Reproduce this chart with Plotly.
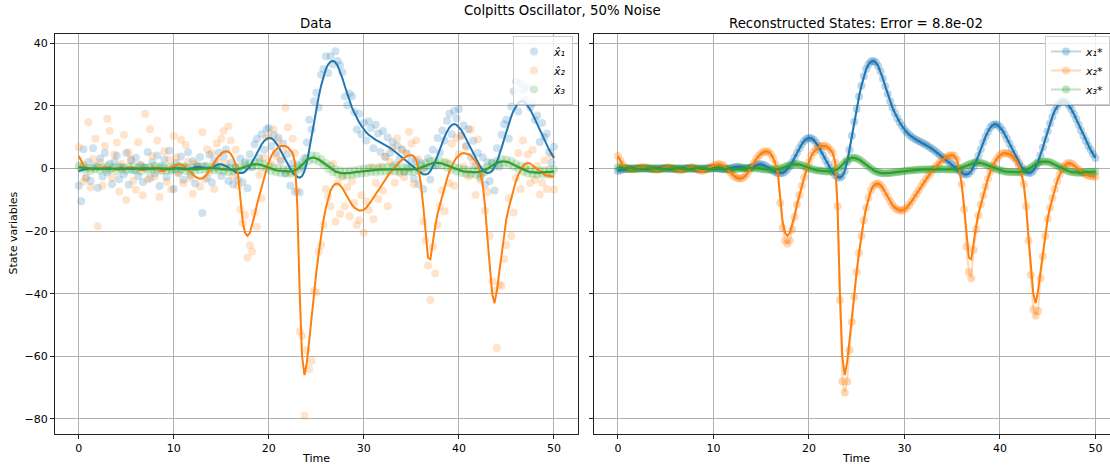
import numpy as np
import plotly.graph_objects as go

time = np.linspace(0, 50, 201)

# reconstructed states (sampled every 0.25 time units)
x1 = [
    -0.8, -0.5, -0.3, -0.2,  -0.1, 0.0, 0.0, 0.1,  0.1, 0.1, 0.0, 0.0,  0.0, -0.1, -0.1, 0.0,
    0.0, 0.1, 0.1, 0.1,  0.0, 0.0, -0.1, -0.1,  -0.1, 0.0, 0.0, 0.1,  0.1, 0.1, 0.0, 0.0,
    -0.1, -0.2, -0.2, -0.1,  0.0, 0.1, 0.2, 0.2,  0.2, 0.1, 0.0, -0.1,  -0.2, -0.2, -0.1, 0.1,
    0.3, 0.5, 0.6, 0.5,  0.3, 0.1, 0.0, 0.1,  0.4, 0.8, 1.2, 1.4,  1.4, 1.2, 0.8, 0.3,
    -0.2, -0.7, -1.1, -1.4,  -1.5, -1.4, -1.0, -0.3,  0.7, 2.0, 3.5, 5.0,  6.5, 7.8, 8.8, 9.5,
    9.8, 9.7, 9.2, 8.3,  7.1, 5.7, 4.2, 2.7,  1.3, 0.0, -1.2, -2.1,  -2.7, -2.9, -2.4, -0.8,
    2.0, 6.0, 10.5, 15.0,  19.0, 23.0, 26.5, 29.5,  31.8, 33.3, 34.2, 34.4,  34.0, 32.8, 31.0, 28.8,
    26.3, 23.8, 21.5, 19.5,  17.8, 16.2, 14.8, 13.6,  12.5, 11.6, 10.8, 10.2,  9.6, 9.2, 8.8, 8.4,
    8.0, 7.6, 7.1, 6.6,  6.1, 5.5, 4.9, 4.3,  3.7, 3.1, 2.5, 1.9,  1.3, 0.6, -0.1, -0.8,
    -1.4, -1.8, -1.9, -1.6,  -0.8, 0.5, 2.2, 4.1,  6.2, 8.3, 10.2, 11.8,  13.1, 13.9, 14.2, 14.0,
    13.3, 12.3, 11.0, 9.5,  7.9, 6.3, 4.7, 3.2,  1.8, 0.6, -0.4, -1.1,  -1.4, -1.3, -0.7, 0.5,
    2.2, 4.3, 6.7, 9.3,  11.9, 14.4, 16.6, 18.5,  20.0, 21.0, 21.5, 21.5,  21.0, 20.1, 18.9, 17.4,
    15.8, 14.0, 12.2, 10.5,  8.9, 7.4, 6.0, 4.7,  3.4,
]
x2 = [
    4.0, 2.5, 1.2, 0.4,  0.0, -0.2, -0.2, -0.1,  0.1, 0.3, 0.4, 0.4,  0.3, 0.1, -0.1, -0.3,
    -0.4, -0.3, -0.1, 0.1,  0.3, 0.4, 0.3, 0.1,  -0.2, -0.4, -0.5, -0.4,  -0.2, 0.1, 0.3, 0.4,
    0.2, -0.1, -0.5, -0.8,  -0.6, -0.3, 0.1, 0.5,  0.9, 1.2, 1.4, 1.3,  1.0, 0.4, -0.4, -1.2,
    -2.0, -2.6, -3.0, -3.2,  -3.1, -2.6, -1.8, -0.7,  0.6, 1.9, 3.1, 4.1,  4.8, 5.3, 5.5, 5.4,
    4.7, 3.4, 1.5, -1.5,  -9.0, -17.0, -20.5, -21.5,  -20.5, -18.0, -15.0, -11.5,  -8.5, -5.5, -2.8, -0.3,
    2.0, 4.0, 5.3, 6.2,  6.8, 7.2, 7.3, 7.2,  6.8, 6.0, 5.0, 2.0,  -12.0, -40.0, -60.0, -66.0,
    -62.0, -55.0, -47.0, -40.0,  -33.0, -27.0, -21.5, -16.5,  -12.5, -9.3, -7.0, -5.6,  -4.9, -4.8, -5.3, -6.3,
    -7.6, -9.0, -10.4, -11.6,  -12.5, -13.1, -13.4, -13.4,  -13.1, -12.5, -11.6, -10.5,  -9.3, -8.1, -6.9, -5.7,
    -4.5, -3.4, -2.3, -1.3,  -0.4, 0.5, 1.3, 2.1,  2.8, 3.4, 3.9, 4.2,  4.3, 4.0, 2.8, -0.2,
    -5.0, -12.0, -21.0, -28.5,  -29.0, -23.5, -18.5, -14.5,  -11.5, -8.5, -5.8, -3.2,  -1.0, 0.8, 2.3, 3.5,
    4.3, 4.8, 5.0, 4.9,  4.6, 4.1, 3.4, 2.4,  1.0, -1.5, -5.0, -12.0,  -22.0, -32.0, -40.0, -43.0,
    -39.0, -33.0, -27.0, -21.0,  -16.0, -12.5, -9.5, -6.5,  -4.0, -2.0, -0.3, 0.9,  1.6, 1.8, 1.6, 1.0,
    0.3, -0.4, -1.0, -1.5,  -1.9, -2.2, -2.4, -2.5,  -2.6,
]
x3 = [
    0.4, 0.3, 0.2, 0.1,  0.0, 0.0, -0.1, -0.1,  -0.1, 0.0, 0.0, 0.1,  0.1, 0.1, 0.0, 0.0,
    -0.1, -0.1, -0.1, 0.0,  0.0, 0.1, 0.1, 0.1,  0.0, 0.0, -0.1, -0.1,  -0.1, 0.0, 0.0, 0.1,
    0.1, 0.1, 0.0, 0.0,  -0.1, -0.1, -0.1, 0.0,  0.0, 0.1, 0.1, 0.1,  0.0, -0.1, -0.1, -0.2,
    -0.2, -0.2, -0.1, 0.0,  0.0, 0.1, 0.2, 0.2,  0.2, 0.2, 0.1, 0.0,  -0.1, -0.2, -0.3, -0.4,
    -0.4, -0.4, -0.3, -0.2,  0.0, 0.3, 0.6, 0.9,  1.1, 1.3, 1.4, 1.4,  1.3, 1.1, 0.8, 0.5,
    0.2, -0.1, -0.3, -0.5,  -0.6, -0.7, -0.8, -0.9,  -0.9, -0.9, -0.8, -0.6,  -0.2, 0.4, 1.2, 2.0,
    2.7, 3.2, 3.5, 3.5,  3.3, 2.9, 2.4, 1.8,  1.2, 0.6, 0.0, -0.5,  -0.9, -1.2, -1.4, -1.5,
    -1.5, -1.5, -1.4, -1.3,  -1.2, -1.1, -1.0, -0.9,  -0.8, -0.7, -0.6, -0.5,  -0.5, -0.4, -0.4, -0.3,
    -0.3, -0.3, -0.2, -0.2,  -0.2, -0.2, -0.2, -0.2,  -0.2, -0.2, -0.3, -0.3,  -0.3, -0.3, -0.2, 0.0,
    0.3, 0.6, 1.0, 1.3,  1.6, 1.8, 1.9, 1.9,  1.8, 1.6, 1.3, 1.0,  0.7, 0.3, 0.0, -0.3,
    -0.5, -0.7, -0.9, -1.0,  -1.1, -1.2, -1.2, -1.2,  -1.1, -1.0, -0.8, -0.5,  -0.1, 0.4, 0.9, 1.4,
    1.8, 2.1, 2.3, 2.3,  2.2, 2.0, 1.7, 1.3,  0.9, 0.5, 0.1, -0.3,  -0.6, -0.9, -1.1, -1.2,
    -1.3, -1.3, -1.3, -1.2,  -1.2, -1.1, -1.0, -1.0,  -0.9,
]

# true x2 state (faint markers on the right; deeper at the dips than the reconstruction)
x2_true = [
    4.0, 2.5, 1.2, 0.4,  0.0, -0.2, -0.2, -0.1,  0.1, 0.3, 0.4, 0.4,  0.3, 0.1, -0.1, -0.3,
    -0.4, -0.3, -0.1, 0.1,  0.3, 0.4, 0.3, 0.1,  -0.2, -0.4, -0.5, -0.4,  -0.2, 0.1, 0.3, 0.4,
    0.2, -0.1, -0.5, -0.8,  -0.6, -0.3, 0.1, 0.5,  0.9, 1.2, 1.4, 1.3,  1.0, 0.4, -0.4, -1.2,
    -2.0, -2.6, -3.0, -3.2,  -3.1, -2.6, -1.8, -0.7,  0.6, 1.9, 3.1, 4.1,  4.8, 5.3, 5.5, 5.4,
    4.7, 3.4, 1.5, -1.5,  -11.0, -19.0, -23.0, -24.0,  -23.0, -19.5, -15.5, -11.5,  -8.5, -5.5, -2.8, -0.3,
    2.0, 4.0, 5.3, 6.2,  6.8, 7.2, 7.3, 7.2,  6.8, 6.0, 5.0, 2.0,  -12.0, -42.0, -68.0, -71.5,
    -68.0, -58.0, -49.0, -41.0,  -33.0, -27.0, -21.5, -16.5,  -12.5, -9.3, -7.0, -5.6,  -4.9, -4.8, -5.3, -6.3,
    -7.6, -9.0, -10.4, -11.6,  -12.5, -13.1, -13.4, -13.4,  -13.1, -12.5, -11.6, -10.5,  -9.3, -8.1, -6.9, -5.7,
    -4.5, -3.4, -2.3, -1.3,  -0.4, 0.5, 1.3, 2.1,  2.8, 3.4, 3.9, 4.2,  4.3, 4.0, 2.8, -0.2,
    -5.0, -13.0, -25.0, -33.0,  -35.0, -26.0, -19.5, -15.0,  -11.5, -8.5, -5.8, -3.2,  -1.0, 0.8, 2.3, 3.5,
    4.3, 4.8, 5.0, 4.9,  4.6, 4.1, 3.4, 2.4,  1.0, -1.5, -5.0, -12.0,  -23.0, -34.0, -45.0, -47.0,
    -45.5, -35.0, -28.0, -21.5,  -16.0, -12.5, -9.5, -6.5,  -4.0, -2.0, -0.3, 0.9,  1.6, 1.8, 1.6, 1.0,
    0.3, -0.4, -1.0, -1.5,  -1.9, -2.2, -2.4, -2.5,  -2.6,
]

# noisy measurements (50% noise)
nx1 = [
    -5.5, -10.4, 6.2, -3.0,  2.1, -4.0, 6.5, 0.8,  -6.1, 3.2, -2.5, 5.0,  -1.2, 1.5, -5.0, 2.2,
    4.1, -3.4, 0.5, -1.8,  5.0, -5.2, 2.7, -0.6,  3.5, -2.4, 1.2, -4.3,  0.3, 5.3, -3.1, 2.0,
    -1.5, 4.2, -5.6, 0.9,  3.0, -2.7, 5.7, -0.4,  -6.5, 1.8, -1.3, 3.9,  -3.6, 0.6, 5.2, -2.1,
    2.4, -4.8, 1.0, 3.7,  -14.2, 0.7, -2.9, 4.4,  -4.4, 2.6, 0.3, 5.1,  -2.4, 3.8, 6.1, -4.0,
    1.8, -5.1, 0.5, -3.6,  3.2, -4.4, 2.1, -6.3,  4.6, 0.5, 7.8, 9.5,  3.4, 11.0, 6.0, 12.6,
    13.0, 7.2, 10.8, 5.0,  9.9, 2.4, 8.0, -1.5,  4.7, -5.5, 1.6, -7.5,  1.2, -7.6, 0.4, 3.3,
    8.3, 15.6, 12.5, 21.5,  24.2, 19.5, 30.0, 31.8,  35.9, 30.5, 35.9, 33.3,  37.5, 34.4, 33.0, 30.8,
    23.0, 20.2, 24.0, 23.0,  18.1, 12.5, 17.5, 11.0,  14.6, 9.0, 15.1, 13.0,  6.5, 14.0, 11.2, 5.3,
    12.0, 3.8, 9.9, 5.0,  8.4, 1.2, 7.3, 3.0,  6.2, -1.0, 4.8, 0.2,  3.0, -3.2, 2.5, -5.0,
    1.7, -6.5, 0.4, 3.3,  -3.5, 6.0, 0.9, 9.8,  5.1, 12.2, 9.0, 15.3,  17.5, 11.0, 18.5, 16.0,
    19.0, 10.5, 13.8, 7.2,  12.6, 3.8, 8.9, 1.0,  5.0, -2.8, 3.6, -5.2,  2.1, -4.0, 1.9, -7.0,
    6.5, 0.6, 10.8, 14.2,  15.6, 9.5, 19.8, 24.7,  27.9, 18.2, 27.0, 25.0,  22.0, 26.0, 19.5, 20.8,
    15.5, 17.0, 8.5, 14.6,  10.0, 11.2, 5.2, 1.8,  7.0,
]
nx2 = [
    6.8, 0.5, -4.2, -2.6,  14.8, -6.0, 3.1, 9.5,  -18.4, 2.0, -5.5, 7.2,  15.9, 12.0, -3.0, 4.5,
    8.3, -7.3, 1.5, 10.8,  -10.0, 5.2, 3.0, -4.0,  -6.8, 8.4, 1.0, -8.5,  17.5, -3.5, 12.6, 4.0,
    -2.6, 9.0, -9.1, -0.5,  5.5, -4.2, 2.8, -6.7,  10.4, 3.6, -1.5, 9.2,  -4.7, 7.5, 2.2, -3.1,
    -8.0, 1.6, 0.5, -5.8,  11.6, -3.4, 6.2, -1.0,  4.9, -6.5, 8.0, 2.0,  9.5, 12.0, 1.5, 13.5,
    9.0, -2.5, 6.0, -5.5,  -13.0, -17.5, -14.8, -28.5,  -24.5, -26.5, -14.0, -18.6,  -2.0, -9.5, 3.5, 9.8,
    10.2, 1.5, 12.5, 4.0,  9.0, 3.0, 6.0, 19.4,  13.2, -1.0, 9.5, 5.0,  -7.0, -52.0, -53.5, -79.0,
    -58.0, -64.0, -61.5, -39.0,  -39.6, -26.6, -24.5, -18.0,  -6.5, -9.0, -12.0, 1.5,  -17.0, -4.5, -14.5, -2.6,
    -12.0, -6.0, -15.2, -4.0,  -11.0, -18.0, -16.5, -8.5,  -20.5, -10.5, -13.2, 0.5,  -16.2, -4.5, -9.7, 0.7,
    -7.0, 3.8, -12.0, 2.2,  6.5, -4.5, 9.6, -1.5,  6.0, -2.8, 4.9, 11.8,  8.0, -5.0, 9.0, 3.0,
    -1.0, -17.0, -23.0, -31.0,  -42.0, -25.0, -33.5, -18.0,  -12.0, -7.0, -13.6, 2.0,  -4.6, 8.0, -5.5, 9.8,
    4.6, 10.6, 0.7, 7.0,  -2.5, 12.5, 2.2, -8.4,  9.3, -3.6, -1.5, -13.5,  -7.5, -21.5, -36.0, -39.0,
    -57.3, -37.0, -37.5, -29.0,  -24.5, -9.5, -21.5, -14.0,  -3.0, 5.0, -6.5, 9.0,  0.5, 4.5, -4.6, 6.0,
    -3.6, 0.8, -8.3, -4.5,  2.7, -6.5, -2.0, 4.0,  -6.7,
]
nx3 = [
    1.0, -0.2, 1.1, -0.2,  0.2, -0.8, 0.3, -0.2,  0.6, -0.6, 0.4, -0.2,  0.8, -0.5, 0.1, 0.5,
    -0.9, 0.6, -0.4, 0.3,  -0.6, 0.7, -0.3, 0.9,  -0.5, 0.4, -0.9, 0.5,  0.3, -0.7, 0.6, -0.4,
    0.9, -0.3, 0.5, -0.8,  0.4, -0.6, 0.5, -0.7,  0.6, -0.4, 0.9, -0.3,  0.7, -0.8, 0.2, -0.9,
    0.3, -0.7, 0.5, -0.5,  0.8, -0.4, 0.9, -0.3,  0.6, -0.5, 0.7, -0.6,  0.4, -0.9, 0.2, -1.1,
    0.3, -0.9, 0.2, -0.8,  0.7, -0.3, 1.3, 0.4,  1.9, 0.6, 2.1, 0.8,  2.0, 0.5, 1.5, -0.2,
    0.9, -0.8, 0.4, -1.2,  0.1, -1.5, -0.2, -1.6,  -0.2, -1.7, -0.1, -1.3,  0.5, -0.3, 2.0, 1.3,
    3.5, 2.4, 4.3, 2.8,  4.1, 2.2, 3.1, 1.1,  1.9, -0.1, 0.8, -1.2,  -0.2, -1.9, -0.6, -2.3,
    -0.8, -2.2, -0.7, -2.0,  -0.5, -1.8, -0.3, -1.6,  0.0, -1.4, 0.1, -1.1,  0.2, -1.2, 0.3, -1.0,
    0.4, -1.0, 0.5, -0.9,  0.5, -0.9, 0.4, -1.0,  0.5, -0.9, 0.4, -1.0,  0.4, -1.0, 0.5, -0.7,
    1.0, -0.1, 1.8, 0.6,  2.4, 1.1, 2.7, 1.2,  2.5, 0.9, 2.0, 0.3,  1.5, -0.4, 0.7, -1.0,
    0.2, -1.4, -0.2, -1.7,  -0.4, -1.9, -0.5, -2.0,  -0.4, -1.7, -0.1, -1.2,  0.6, -0.3, 1.7, 0.7,
    2.5, 1.4, 3.1, 1.6,  2.9, 1.3, 2.5, 0.6,  1.6, -0.2, 0.9, -1.0,  0.1, -1.6, -0.4, -1.9,
    -0.6, -2.0, -0.6, -1.9,  -0.5, -1.8, -0.3, -1.7,  -0.2,
]

noisy_names = ["x̂₁", "x̂₂", "x̂₃"]
true_names = ["x₁*", "x₂*", "x₃*"]
rgb = [(31, 119, 180), (255, 127, 14), (44, 160, 44)]

W, H = 1110, 470
FONT = "DejaVu Sans"


def rgba(c, a):
    return f"rgba({c[0]},{c[1]},{c[2]},{a})"


fig = go.Figure()

recon = [x1, x2, x3]
truth = [x1, x2_true, x3]
noisy = [nx1, nx2, nx3]

# left panel: noisy data + reconstruction
for k in range(3):
    fig.add_trace(go.Scatter(
        x=time, y=noisy[k], mode="markers", name=noisy_names[k],
        marker=dict(size=8, color=rgba(rgb[k], 0.22), line=dict(width=0)),
        xaxis="x", yaxis="y", legend="legend",
    ))
for k in range(3):
    fig.add_trace(go.Scatter(
        x=time, y=recon[k], mode="lines", showlegend=False,
        line=dict(color=rgba(rgb[k], 1), width=2),
        xaxis="x", yaxis="y",
    ))

# right panel: true states (faint markers) + reconstruction
for k in range(3):
    fig.add_trace(go.Scatter(
        x=time, y=truth[k], mode="lines+markers", name=true_names[k],
        marker=dict(size=8, color=rgba(rgb[k], 0.3), line=dict(width=0)),
        line=dict(color=rgba(rgb[k], 0.3), width=2),
        xaxis="x2", yaxis="y2", legend="legend2",
    ))
for k in range(3):
    fig.add_trace(go.Scatter(
        x=time, y=recon[k], mode="lines", showlegend=False,
        line=dict(color=rgba(rgb[k], 1), width=2),
        xaxis="x2", yaxis="y2",
    ))

yr = [-84.7, 43.0]
ydom = [1 - 433.7 / H, 1 - 34 / H]
axis_common = dict(
    showgrid=True, gridcolor="#b0b0b0", gridwidth=1,
    showline=True, linecolor="#222222", linewidth=1.2, mirror=True,
    ticks="outside", ticklen=4, tickcolor="#222222", tickwidth=1,
    zeroline=False, tickfont=dict(family=FONT, size=11, color="black"),
)
legend_font = dict(family=FONT, size=11, style="italic", color="black")

fig.update_layout(
    width=W, height=H,
    margin=dict(l=0, r=0, t=0, b=0),
    paper_bgcolor="white", plot_bgcolor="white",
    font=dict(family=FONT, size=11, color="black"),
    xaxis=dict(domain=[55 / W, 577.7 / W], range=[-2.5, 52.5], tickvals=[0, 10, 20, 30, 40, 50],
               anchor="y", **axis_common),
    yaxis=dict(domain=ydom, range=yr, tickvals=[-80, -60, -40, -20, 0, 20, 40],
               anchor="x", **axis_common),
    xaxis2=dict(domain=[594 / W, 1.0], range=[-2.5, 51.53], tickvals=[0, 10, 20, 30, 40, 50],
                anchor="y2", **axis_common),
    yaxis2=dict(domain=ydom, range=yr, tickvals=[-80, -60, -40, -20, 0, 20, 40],
                anchor="x2", showticklabels=False, **axis_common),
    legend=dict(x=573 / W, y=1 - 36 / H, xanchor="right", yanchor="top",
                bgcolor="rgba(255,255,255,0.8)", bordercolor="#cccccc", borderwidth=1,
                font=legend_font, itemwidth=30, tracegroupgap=0),
    legend2=dict(x=1.0, y=1 - 36 / H, xanchor="right", yanchor="top",
                 bgcolor="rgba(255,255,255,0.8)", bordercolor="#cccccc", borderwidth=1,
                 font=legend_font, itemwidth=30, tracegroupgap=0),
    showlegend=True,
)

annots = [
    dict(text="Colpitts Oscillator, 50% Noise", x=562 / W, y=1 - 11 / H, size=13.3),
    dict(text="Data", x=316 / W, y=1 - 24 / H, size=13.3),
    dict(text="Reconstructed States: Error = 8.8e-02", x=856 / W, y=1 - 24 / H, size=13.3),
    dict(text="Time", x=316 / W, y=1 - 458 / H, size=11),
    dict(text="Time", x=856 / W, y=1 - 458 / H, size=11),
]
for a in annots:
    fig.add_annotation(text=a["text"], x=a["x"], y=a["y"], xref="paper", yref="paper",
                       xanchor="center", yanchor="middle", showarrow=False,
                       font=dict(family=FONT, size=a["size"], color="black"))
fig.add_annotation(text="State variables", x=13 / W, y=1 - 233.5 / H, xref="paper", yref="paper",
                   xanchor="center", yanchor="middle", showarrow=False, textangle=-90,
                   font=dict(family=FONT, size=11, color="black"))

fig.write_html("out.html")
